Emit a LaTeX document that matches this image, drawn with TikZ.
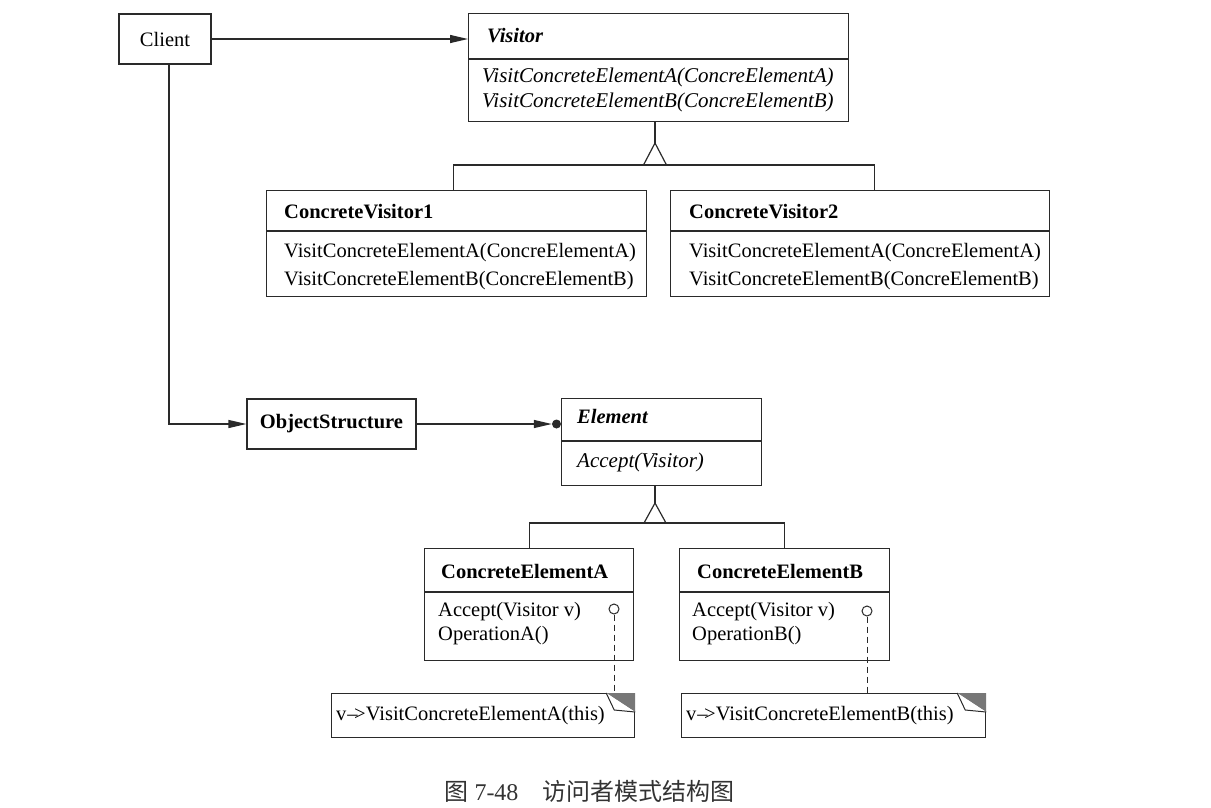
\documentclass[tikz,border=0pt]{standalone}
\usepackage{fontspec}
\setmainfont{Liberation Serif}
\newfontfamily\cjk{Noto Sans CJK SC}
\usetikzlibrary{arrows.meta,calc}
\definecolor{ln}{HTML}{2A2A2A}
\definecolor{ear}{HTML}{777777}
\begin{document}
\begin{tikzpicture}[x=1pt,y=-1pt,
  box/.style={draw=ln,line width=1.2pt,inner sep=0pt,fill=white,font=\fontsize{20.5}{24}\selectfont},
  cbox/.style={box,anchor=north west},
  txt/.style={anchor=west,inner sep=0pt,align=left,font=\fontsize{20.5}{24}\selectfont},
  conn/.style={draw=ln,line width=1.2pt},
  tri/.style={-{Triangle[length=18pt,width=8pt]}},
  hollow/.style={draw=ln,line width=1.2pt,fill=white},
  dotend/.style={circle,fill=ln,inner sep=0pt,minimum size=9pt},
  ring/.style={circle,draw=ln,line width=1pt,fill=white,inner sep=0pt,minimum size=10pt},
  dashlink/.style={draw=ln,line width=1pt,dash pattern=on 6pt off 4pt},
]
\useasboundingbox (0,0) rectangle (1211,807);

% Client
\node[box,minimum width=92pt,minimum height=50pt] (client) at (165,39) {Client};

% Visitor
\node[cbox,minimum width=380pt,minimum height=108pt] (vis) at (468,13) {};
\draw[conn] (vis.west |- 0,59) -- (vis.east |- 0,59);
\node[txt,font=\fontsize{20.5}{24}\selectfont\bfseries\itshape] (visT) at (487,36) {Visitor};
\node[txt,font=\fontsize{21}{25}\selectfont\itshape] (visM) at (482,90) {VisitConcreteElementA(ConcreElementA)\\VisitConcreteElementB(ConcreElementB)};

% ConcreteVisitor1
\node[cbox,minimum width=380pt,minimum height=106pt] (cv1) at (266,190) {};
\draw[conn] (cv1.west |- 0,231) -- (cv1.east |- 0,231);
\node[txt,font=\fontsize{20.5}{24}\selectfont\bfseries] (cv1T) at (284,212) {ConcreteVisitor1};
\node[txt,font=\fontsize{20.5}{28}\selectfont] (cv1M) at (284,266.5) {VisitConcreteElementA(ConcreElementA)\\VisitConcreteElementB(ConcreElementB)};

% ConcreteVisitor2
\node[cbox,minimum width=379pt,minimum height=106pt] (cv2) at (670,190) {};
\draw[conn] (cv2.west |- 0,231) -- (cv2.east |- 0,231);
\node[txt,font=\fontsize{20.5}{24}\selectfont\bfseries] (cv2T) at (689,212) {ConcreteVisitor2};
\node[txt,font=\fontsize{20.5}{28}\selectfont] (cv2M) at (689,266.5) {VisitConcreteElementA(ConcreElementA)\\VisitConcreteElementB(ConcreElementB)};

% inheritance Visitor
\coordinate (vapex) at (655,143);
\coordinate (vbar) at (655,165);
\draw[conn] (vis.south -| vapex) -- (vapex);
\draw[hollow] (vapex) -- ++(-11.5,22) -- ++(23,0) -- cycle;
\draw[conn] ([xshift=-3pt]cv1.north) |- (vbar) -| ([xshift=14.5pt]cv2.north);

% ObjectStructure
\node[box,minimum width=169pt,minimum height=50pt,font=\fontsize{20.5}{24}\selectfont\bfseries] (os) at (331.5,424) {ObjectStructure};

% Element
\node[cbox,minimum width=200pt,minimum height=87pt] (el) at (561,398) {};
\draw[conn] (el.west |- 0,441) -- (el.east |- 0,441);
\node[txt,font=\fontsize{20.5}{24}\selectfont\bfseries\itshape] (elT) at (577,416) {Element};
\node[txt,font=\fontsize{21}{24}\selectfont\itshape] (elM) at (577,462) {Accept(Visitor)};

% Client connectors
\draw[conn,tri] (client.east) -- (client.east -| vis.west);
\draw[conn,tri] ([xshift=4pt]client.south) |- (os.west);
\node[dotend] (dot) at (556.5,424) {};
\draw[conn,tri] (os.east) -- (dot.west);

% ConcreteElementA
\node[cbox,minimum width=209pt,minimum height=112pt] (cea) at (424,548) {};
\draw[conn] (cea.west |- 0,592) -- (cea.east |- 0,592);
\node[txt,font=\fontsize{20.5}{24}\selectfont\bfseries] (ceaT) at (441,571) {ConcreteElementA};
\node[txt,font=\fontsize{20.5}{24}\selectfont] (ceaM) at (438,624) {Accept(Visitor v)\\OperationA()};

% ConcreteElementB
\node[cbox,minimum width=210pt,minimum height=112pt] (ceb) at (679,548) {};
\draw[conn] (ceb.west |- 0,592) -- (ceb.east |- 0,592);
\node[txt,font=\fontsize{20.5}{24}\selectfont\bfseries] (cebT) at (697,571) {ConcreteElementB};
\node[txt,font=\fontsize{20.5}{24}\selectfont] (cebM) at (692,624) {Accept(Visitor v)\\OperationB()};

% inheritance Element
\coordinate (eapex) at (655,503);
\coordinate (ebar) at (655,523);
\draw[conn] (el.south -| eapex) -- (eapex);
\draw[hollow] (eapex) -- ++(-11,20) -- ++(22,0) -- cycle;
\draw[conn] (cea.north) |- (ebar) -| (ceb.north);

% Notes
\node[cbox,minimum width=303pt,minimum height=44pt] (na) at (331,693) {};
\node[txt] (naT) at (336,716) {v\kern1pt–\kern-3.5pt>VisitConcreteElementA(this)};
\node[cbox,minimum width=304pt,minimum height=44pt] (nb) at (681,693) {};
\node[txt] (nbT) at (686,716) {v\kern1pt–\kern-3.5pt>VisitConcreteElementB(this)};

\foreach \n in {na,nb}{
  \fill[ear] ($(\n.north east)+(-29,0)$) -- (\n.north east) -- ($(\n.north east)+(0,19)$) -- cycle;
  \draw[draw=ln,line width=1pt,fill=white,line join=round] ($(\n.north east)+(-29,0)$) -- ($(\n.north east)+(-21,17)$) -- ($(\n.north east)+(0,19)$);
}

% rings and dashed links
\node[ring] (ra) at (614,609) {};
\node[ring] (rb) at (867,611) {};
\draw[dashlink] (ra.south) -- (ra.south |- na.north);
\draw[dashlink] (rb.south) -- (rb.south |- nb.north);

% caption
\node[inner sep=0pt,text=black!80] (cap) at (589.5,791) {\fontsize{24}{28}\selectfont{\cjk 图}\ 7-48\quad{\cjk 访问者模式结构图}};
\end{tikzpicture}
\end{document}
